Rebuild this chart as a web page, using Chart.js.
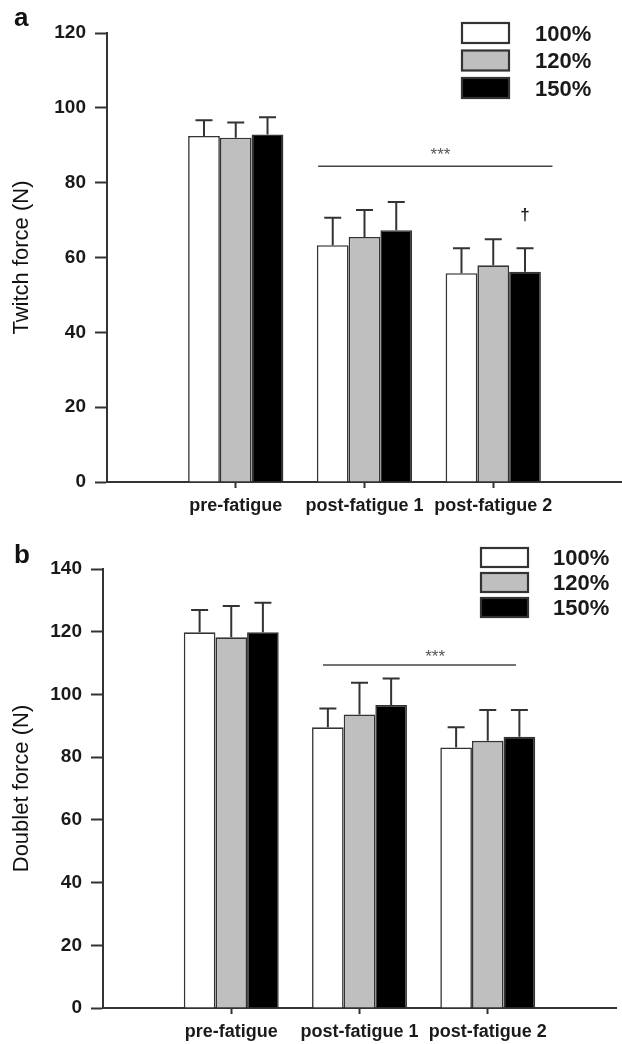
<!DOCTYPE html>
<html><head><meta charset="utf-8">
<script src="https://cdn.jsdelivr.net/npm/chart.js@4.4.1/dist/chart.umd.min.js"></script>
<style>
html,body{margin:0;padding:0;background:#fff;overflow:hidden;}
#wrap{position:relative;width:622px;height:1044px;overflow:hidden;}
.pane{position:absolute;left:0;}
#p1{top:0;width:629px;height:520px;}
#p2{top:520px;width:623px;height:524px;}
.letter{position:absolute;font:bold 26px 'Liberation Sans',Arial,sans-serif;color:#111;line-height:30px;}
</style></head><body>
<div id="wrap">
<div class="pane" id="p1"><canvas id="c1" width="629" height="520"></canvas></div>
<div class="pane" id="p2"><canvas id="c2" width="623" height="524"></canvas></div>
<div class="letter" style="left:14px;top:2px">a</div>
<div class="letter" style="left:14px;top:539px">b</div>
</div>
<script>
// ---- data ----
const categories = ['', 'pre-fatigue', 'post-fatigue 1', 'post-fatigue 2', ''];
const seriesLabels = ['100%', '120%', '150%'];

// panel a: twitch force (N), mean and SD
const twitch100 = [null, 92.5, 63.3, 55.8, null];
const twitch120 = [null, 92.0, 65.5, 57.9, null];
const twitch150 = [null, 92.9, 67.3, 56.2, null];
const twitchSd100 = [null, 4.2, 7.3, 6.7, null];
const twitchSd120 = [null, 4.1, 7.2, 7.0, null];
const twitchSd150 = [null, 4.6, 7.5, 6.3, null];
const twitchTicks = [0, 20, 40, 60, 80, 100, 120];

// panel b: doublet force (N), mean and SD
const doublet100 = [null, 119.8, 89.5, 83.1, null];
const doublet120 = [null, 118.2, 93.6, 85.2, null];
const doublet150 = [null, 119.8, 96.6, 86.5, null];
const doubletSd100 = [null, 7.1, 6.0, 6.4, null];
const doubletSd120 = [null, 10.0, 10.1, 9.8, null];
const doubletSd150 = [null, 9.4, 8.5, 8.5, null];
const doubletTicks = [0, 20, 40, 60, 80, 100, 120, 140];

// significance annotations: [from category pos, to category pos, value], stars [pos, value]
const twitchSigLine = [1.64, 3.46, 84.4];
const twitchSigStars = [2.59, 88.7];
const twitchDagger = [3, 71.4];   // category index of 150% bar, value
const doubletSigLine = [1.715, 3.22, 109.4];
const doubletSigStars = [2.59, 113.5];

// ---- styling ----
const FAM = "'Liberation Sans', Arial, Helvetica, sans-serif";
const fills = ['#ffffff', '#bfbfbf', '#000000'];
const INK = '#333333';

const overlay = {
  id: 'overlay',
  afterDatasetsDraw(chart, args, o) {
    const ctx = chart.ctx, xs = chart.scales.x, ys = chart.scales.y;
    ctx.save();
    // error bars (upper only)
    chart.data.datasets.forEach((ds, d) => {
      const meta = chart.getDatasetMeta(d);
      const sd = o.sd[d];
      meta.data.forEach((bar, i) => {
        const v = ds.data[i];
        if (v == null || sd[i] == null) return;
        const yTop = ys.getPixelForValue(v + sd[i]);
        const yBar = ys.getPixelForValue(v);
        ctx.strokeStyle = INK; ctx.lineWidth = 2;
        ctx.beginPath();
        ctx.moveTo(bar.x, yBar); ctx.lineTo(bar.x, yTop);
        ctx.moveTo(bar.x - 8.5, yTop); ctx.lineTo(bar.x + 8.5, yTop);
        ctx.stroke();
      });
    });
    // significance line + stars
    if (o.sigLine) {
      const y = ys.getPixelForValue(o.sigLine[2]);
      ctx.strokeStyle = '#444'; ctx.lineWidth = 1.6;
      ctx.beginPath();
      ctx.moveTo(xs.getPixelForValue(o.sigLine[0]), y);
      ctx.lineTo(xs.getPixelForValue(o.sigLine[1]), y);
      ctx.stroke();
    }
    if (o.sigStars) {
      ctx.fillStyle = '#555'; ctx.font = '17px ' + FAM;
      ctx.textAlign = 'center'; ctx.textBaseline = 'alphabetic';
      ctx.fillText('***', xs.getPixelForValue(o.sigStars[0]), ys.getPixelForValue(o.sigStars[1]) + 10);
    }
    if (o.dagger) {
      const bar = chart.getDatasetMeta(2).data[o.dagger[0]];
      ctx.fillStyle = '#222'; ctx.font = 'bold 17px ' + FAM;
      ctx.textAlign = 'center'; ctx.textBaseline = 'middle';
      ctx.fillText('\u2020', bar.x, ys.getPixelForValue(o.dagger[1]));
    }
    // legend
    const L = o.legend;
    chart.data.datasets.forEach((ds, d) => {
      const top = L.top + d * L.step;
      ctx.fillStyle = ds.backgroundColor;
      ctx.fillRect(L.left, top, L.w, L.h);
      ctx.strokeStyle = INK; ctx.lineWidth = 2.2;
      ctx.strokeRect(L.left, top, L.w, L.h);
      ctx.fillStyle = '#1a1a1a'; ctx.font = 'bold 22px ' + FAM;
      ctx.textAlign = 'left'; ctx.textBaseline = 'middle';
      ctx.fillText(ds.label, L.textX, top + L.h / 2 + 1.5);
    });
    ctx.restore();
  }
};

function makeChart(id, series, sds, ticks, yTitle, geom, extras) {
  const datasets = series.map((s, k) => ({
    label: seriesLabels[k], data: s,
    backgroundColor: fills[k], borderColor: INK, borderWidth: 1.6,
    categoryPercentage: 0.74, barPercentage: 1.0
  }));
  return new Chart(document.getElementById(id), {
    type: 'bar',
    data: { labels: categories, datasets },
    plugins: [overlay],
    options: {
      responsive: false, animation: false, devicePixelRatio: 1,
      layout: { padding: { top: geom.top, right: 0, left: 0, bottom: 0 } },
      plugins: {
        legend: { display: false }, tooltip: { enabled: false },
        overlay: Object.assign({ sd: sds, legend: geom.legend }, extras)
      },
      scales: {
        x: {
          type: 'category', offset: false,
          grid: { offset: false, drawOnChartArea: false, drawTicks: true, tickLength: 6, tickWidth: 2,
                  tickColor: (c) => categories[c.index] ? INK : 'rgba(0,0,0,0)' },
          border: { display: true, color: INK, width: 2 },
          ticks: { autoSkip: false, maxRotation: 0, minRotation: 0, padding: 7, color: '#1a1a1a',
                   font: { family: FAM, size: 18, weight: 'bold' } },
          afterFit: (s) => { s.height = geom.xh; }
        },
        y: {
          min: ticks[0], max: ticks[ticks.length - 1],
          afterBuildTicks: (s) => { s.ticks = ticks.map(v => ({ value: v })); },
          grid: { drawOnChartArea: false, tickLength: 12, tickWidth: 2, tickColor: INK },
          border: { display: true, color: INK, width: 2 },
          ticks: { padding: 9, color: '#1a1a1a', font: { family: FAM, size: 19, weight: 'bold' } },
          title: { display: true, text: yTitle, color: '#111', font: { family: FAM, size: 22 },
                   padding: { top: 9, bottom: 0 } },
          afterFit: (s) => { s.width = geom.yw; }
        }
      }
    }
  });
}

makeChart('c1', [twitch100, twitch120, twitch150], [twitchSd100, twitchSd120, twitchSd150],
  twitchTicks, 'Twitch force (N)',
  { top: 33, xh: 38, yw: 107,
    legend: { left: 462, top: 23, w: 47, h: 20, step: 27.5, textX: 535 } },
  { sigLine: twitchSigLine, sigStars: twitchSigStars, dagger: twitchDagger });

makeChart('c2', [doublet100, doublet120, doublet150], [doubletSd100, doubletSd120, doubletSd150],
  doubletTicks, 'Doublet force (N)',
  { top: 49, xh: 36, yw: 103,
    legend: { left: 481, top: 28, w: 47, h: 19, step: 25, textX: 553 } },
  { sigLine: doubletSigLine, sigStars: doubletSigStars });
</script>
</body></html>
